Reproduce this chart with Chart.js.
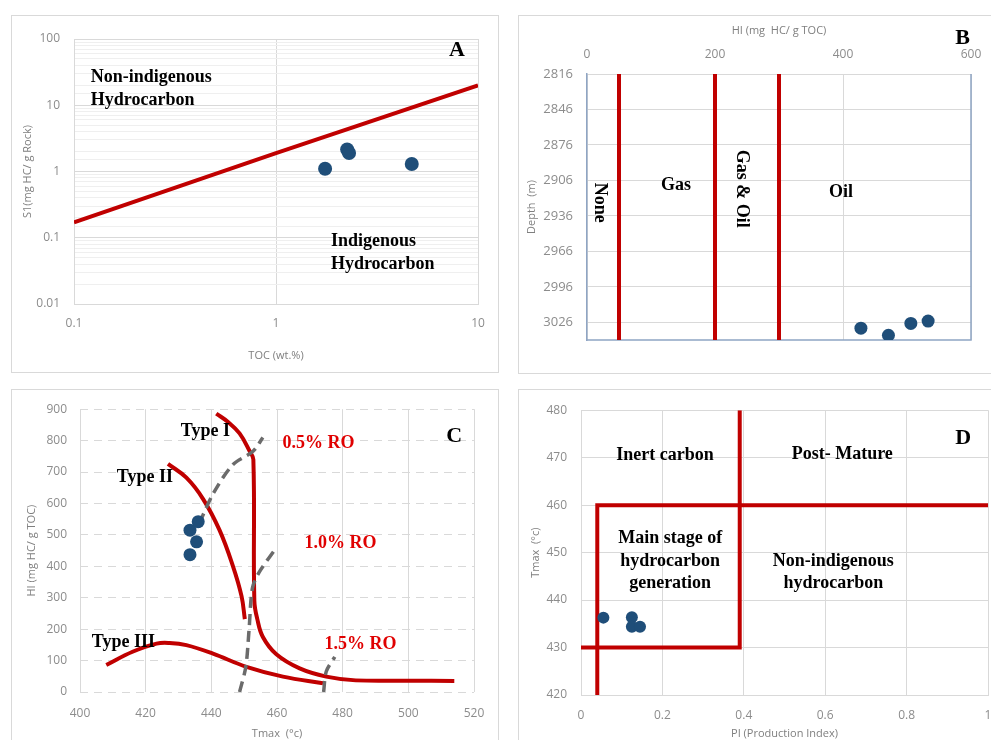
<!DOCTYPE html>
<html>
<head>
<meta charset="utf-8">
<script src="https://cdn.jsdelivr.net/npm/chart.js@4.4.1/dist/chart.umd.min.js"></script>
<style>
body { margin: 0; background: #fff; width: 991px; height: 740px; overflow: hidden; position: relative; }
.box { position: absolute; border: 1px solid #d9d9d9; box-sizing: border-box; }
canvas { position: absolute; }
</style>
</head>
<body>
<div class="box" style="left:11px;top:15px;width:488px;height:358px"></div>
<div class="box" style="left:518px;top:15px;width:480px;height:359px"></div>
<div class="box" style="left:11px;top:389px;width:488px;height:360px"></div>
<div class="box" style="left:518px;top:389px;width:480px;height:360px"></div>
<canvas id="cA" width="487" height="357" style="left:11px;top:15px"></canvas>
<canvas id="cB" width="500" height="358" style="left:518px;top:15px"></canvas>
<canvas id="cC" width="500" height="351" style="left:11px;top:389px"></canvas>
<canvas id="cD" width="500" height="351" style="left:518px;top:389px"></canvas>
<script>
// --- A : S1 vs TOC ---
var aToc = [1.75, 2.25, 2.3, 4.7];
var aS1 = [1.1, 2.15, 1.9, 1.3];
var aLimitToc = [0.1, 1, 10];
var aLimitS1 = [0.17, 1.9, 20];

// --- B : HI vs depth ---
var bHI = [428, 471, 506, 533];
var bDepth = [3031, 3037, 3027, 3025];
var bZoneLimits = [50, 200, 300];
var bHITicks = [0, 200, 400, 600];
var bDepthTicks = [2816, 2846, 2876, 2906, 2936, 2966, 2996, 3026];
var bDepthMin = 2816, bDepthMax = 3041;

// --- C : HI vs Tmax ---
var cTmax = [433.5, 436, 435.5, 433.5];
var cHI = [515, 542, 478, 437];
var typeITmax = [441.5, 445, 448.6, 451.7, 452.8, 453.1, 454, 455.7, 459.8, 466.9, 475, 484, 500, 514];
var typeIHI = [886, 860, 823, 766, 740, 290, 232, 175, 120, 75, 49, 37, 36, 35];
var typeIITmax = [426.8, 432.4, 437.5, 442.5, 446.6, 449.2, 450.2];
var typeIIHI = [726, 682, 614, 515, 400, 305, 232];
var typeIIITmax = [408, 416, 423.3, 427.3, 432.4, 440.5, 450.7, 461.8, 474];
var typeIIIHI = [86, 128, 154, 156, 149, 122, 80, 49, 28];
var ro05Tmax = [436.3, 440.5, 446.6, 452.7, 455.7];
var ro05HI = [536, 630, 724, 766, 810];
var ro10Tmax = [448.6, 450.5, 451.5, 452.5, 454.5, 459.3];
var ro10HI = [0, 80, 200, 330, 380, 452];
var ro15Tmax = [474.2, 475, 477.6];
var ro15HI = [0, 65, 112];

// --- D : Tmax vs PI ---
var dPI = [0.055, 0.125, 0.125, 0.145];
var dTmax = [436.3, 436.4, 434.4, 434.4];
var dLine1PI = [0.04, 0.04, 1];
var dLine1T = [420, 460, 460];
var dLine2PI = [0, 0.39, 0.39];
var dLine2T = [430, 430, 480];

var RED = "#c00000";
var DOT = "#1f4e79";
var GRID = "#d9d9d9";
var TICK = "#8c8c8c";
var FONT_TICK = { family: '"Open Sans", "Liberation Sans", sans-serif', size: 12 };
var FONT_TITLE = { family: '"Open Sans", "Liberation Sans", sans-serif', size: 11 };

function pts(xs, ys) {
    return xs.map(function(x, i) { return { x: x, y: ys[i] }; });
}
function fixW(w) { return function(s) { s.width = w; }; }
function fixH(h) { return function(s) { s.height = h; }; }
function setTicks(list) {
    return function(s) { s.ticks = list.map(function(v) { return { value: v }; }); };
}
function isPow10(v) {
    var l = Math.log10(v);
    return Math.abs(l - Math.round(l)) < 1e-6;
}
function plain(v) { return String(Math.round(v * 100) / 100); }

// textes dessinés en coordonnées de données
var notes = {
    id: "notes",
    afterDatasetsDraw: function(chart, args, opts) {
        var ctx = chart.ctx, xs = chart.scales.x, ys = chart.scales.y;
        (opts.items || []).forEach(function(n) {
            ctx.save();
            ctx.translate(xs.getPixelForValue(n.x), ys.getPixelForValue(n.y));
            if (n.rot) ctx.rotate(n.rot * Math.PI / 180);
            ctx.font = "bold " + (n.size || 18) + 'px "Liberation Serif", serif';
            ctx.fillStyle = n.color || "#000";
            ctx.textAlign = n.align || "center";
            ctx.textBaseline = "middle";
            ctx.fillText(n.text, 0, 0);
            ctx.restore();
        });
    }
};

// cadre bleuté du panneau B
var frameB = {
    id: "frameB",
    beforeDatasetsDraw: function(chart) {
        var ctx = chart.ctx, a = chart.chartArea;
        ctx.save();
        ctx.strokeStyle = "#8fa5c4";
        ctx.lineWidth = 1.5;
        ctx.beginPath();
        ctx.moveTo(a.left, a.bottom);
        ctx.lineTo(a.right, a.bottom);
        ctx.lineTo(a.right, a.top);
        ctx.stroke();
        ctx.restore();
    }
};

function tickOpts(pad, extra) {
    var t = { color: TICK, font: FONT_TICK, padding: pad, maxRotation: 0, autoSkip: false, callback: plain };
    for (var k in extra) t[k] = extra[k];
    return t;
}
function titleOpts(text, top, bottom) {
    return { display: true, text: text, color: "#7f7f7f", font: FONT_TITLE, padding: { top: top, bottom: bottom } };
}
var base = {
    responsive: false,
    animation: false,
    events: []
};
function opts(o) {
    var r = {};
    for (var k in base) r[k] = base[k];
    for (var k2 in o) r[k2] = o[k2];
    return r;
}

// ---------------- A ----------------
new Chart(document.getElementById("cA"), {
    type: "scatter",
    data: {
        datasets: [
            { data: pts(aToc, aS1), pointRadius: 7, pointBackgroundColor: DOT, pointBorderWidth: 0 },
            { data: pts(aLimitToc, aLimitS1), showLine: true, borderColor: RED, borderWidth: 4, pointRadius: 0 }
        ]
    },
    options: opts({
        layout: { padding: { left: 0, top: 24, right: 20, bottom: 0 } },
        plugins: {
            legend: { display: false },
            tooltip: { enabled: false },
            notes: { items: [
                { text: "Non-indigenous", x: 0.121, y: 26.7, align: "left" },
                { text: "Hydrocarbon", x: 0.121, y: 12, align: "left" },
                { text: "Indigenous", x: 1.87, y: 0.089, align: "left" },
                { text: "Hydrocarbon", x: 1.87, y: 0.04, align: "left" },
                { text: "A", x: 7.87, y: 68, size: 22 }
            ] }
        },
        scales: {
            x: {
                type: "logarithmic", min: 0.1, max: 10, afterFit: fixH(68),
                grid: { color: function(c) { return c.tick && isPow10(c.tick.value) ? GRID : "rgba(0,0,0,0)"; }, drawTicks: false },
                border: { color: GRID },
                ticks: tickOpts(12, { callback: function(v) { return isPow10(v) ? String(v) : ""; } }),
                title: titleOpts("TOC (wt.%)", 0, 10)
            },
            y: {
                type: "logarithmic", min: 0.01, max: 100, afterFit: fixW(63),
                grid: { color: function(c) { return c.tick && isPow10(c.tick.value) ? GRID : "#efefef"; }, drawTicks: false },
                border: { color: GRID },
                ticks: tickOpts(14, { callback: function(v) { return isPow10(v) ? String(v) : ""; } }),
                title: titleOpts("S1(mg HC/ g Rock)", 10, 0)
            }
        }
    }),
    plugins: [notes]
});

// ---------------- B ----------------
var bSets = [{ data: pts(bHI, bDepth), pointRadius: 6.5, pointBackgroundColor: DOT, pointBorderWidth: 0 }];
bZoneLimits.forEach(function(v) {
    bSets.push({ data: pts([v, v], [bDepthMin, bDepthMax]), showLine: true, borderColor: RED, borderWidth: 4, pointRadius: 0 });
});
new Chart(document.getElementById("cB"), {
    type: "scatter",
    data: { datasets: bSets },
    options: opts({
        layout: { padding: { left: 0, top: 0, right: 47, bottom: 33 } },
        plugins: {
            legend: { display: false },
            tooltip: { enabled: false },
            notes: { items: [
                { text: "None", x: 20, y: 2925, rot: 90 },
                { text: "Gas", x: 139, y: 2910 },
                { text: "Gas & Oil", x: 241, y: 2913, rot: 90 },
                { text: "Oil", x: 397, y: 2916 },
                { text: "B", x: 587, y: 2786, size: 22 }
            ] }
        },
        scales: {
            x: {
                type: "linear", position: "top", min: 0, max: 600,
                afterBuildTicks: setTicks(bHITicks), afterFit: fixH(59),
                grid: { color: GRID, drawTicks: false },
                border: { color: GRID },
                ticks: tickOpts(12, {}),
                title: titleOpts("HI (mg  HC/ g TOC)", 9, 0)
            },
            y: {
                type: "linear", reverse: true, min: bDepthMin, max: bDepthMax,
                afterBuildTicks: setTicks(bDepthTicks), afterFit: fixW(69),
                grid: { color: GRID, drawTicks: false },
                border: { color: "#8fa5c4", width: 1.5 },
                ticks: tickOpts(14, { font: { family: FONT_TICK.family, size: 13 } }),
                title: titleOpts("Depth  (m)", 7, 0)
            }
        }
    }),
    plugins: [frameB, notes]
});

// ---------------- C ----------------
function dashed(xs, ys) {
    return { data: pts(xs, ys), showLine: true, borderColor: "#6b6b6b", borderWidth: 3.5, borderDash: [11, 6], tension: 0.3, pointRadius: 0 };
}
function curve(xs, ys) {
    return { data: pts(xs, ys), showLine: true, borderColor: RED, borderWidth: 4, tension: 0.4, pointRadius: 0 };
}
new Chart(document.getElementById("cC"), {
    type: "scatter",
    data: {
        datasets: [
            { data: pts(cTmax, cHI), pointRadius: 6.5, pointBackgroundColor: DOT, pointBorderWidth: 0 },
            dashed(ro05Tmax, ro05HI),
            dashed(ro10Tmax, ro10HI),
            dashed(ro15Tmax, ro15HI),
            curve(typeITmax, typeIHI),
            curve(typeIITmax, typeIIHI),
            curve(typeIIITmax, typeIIIHI)
        ]
    },
    options: opts({
        layout: { padding: { left: 0, top: 17, right: 37, bottom: 0 } },
        plugins: {
            legend: { display: false },
            tooltip: { enabled: false },
            notes: { items: [
                { text: "Type I", x: 430.7, y: 830, align: "left" },
                { text: "Type II", x: 411.2, y: 682, align: "left" },
                { text: "Type III", x: 403.6, y: 158, align: "left" },
                { text: "0.5% RO", x: 461.7, y: 792, align: "left", color: "#e00000" },
                { text: "1.0% RO", x: 468.4, y: 472, align: "left", color: "#e00000" },
                { text: "1.5% RO", x: 474.5, y: 152, align: "left", color: "#e00000" },
                { text: "C", x: 514, y: 814, size: 22 }
            ] }
        },
        scales: {
            x: {
                type: "linear", min: 400, max: 520, afterFit: fixH(48),
                grid: { color: GRID, drawTicks: false },
                border: { display: false },
                ticks: tickOpts(14, { stepSize: 20 }),
                title: titleOpts("Tmax  (°c)", 0, 0)
            },
            y: {
                type: "linear", min: 0, max: 900, afterFit: fixW(69),
                grid: { color: GRID, drawTicks: false },
                border: { display: false, dash: [8, 6] },
                ticks: tickOpts(13, { stepSize: 100 }),
                title: titleOpts("HI (mg HC/ g TOC)", 14, 0)
            }
        }
    }),
    plugins: [notes]
});

// ---------------- D ----------------
new Chart(document.getElementById("cD"), {
    type: "scatter",
    data: {
        datasets: [
            { data: pts(dPI, dTmax), pointRadius: 6, pointBackgroundColor: DOT, pointBorderWidth: 0 },
            { data: pts(dLine1PI, dLine1T), showLine: true, borderColor: RED, borderWidth: 4, pointRadius: 0 },
            { data: pts(dLine2PI, dLine2T), showLine: true, borderColor: RED, borderWidth: 4, pointRadius: 0 }
        ]
    },
    options: opts({
        layout: { padding: { left: 0, top: 14, right: 30, bottom: 0 } },
        plugins: {
            legend: { display: false },
            tooltip: { enabled: false },
            notes: { items: [
                { text: "Inert carbon", x: 0.2065, y: 470.4 },
                { text: "Post- Mature", x: 0.642, y: 470.6 },
                { text: "Main stage of", x: 0.219, y: 452.9 },
                { text: "hydrocarbon", x: 0.219, y: 448.2 },
                { text: "generation", x: 0.219, y: 443.6 },
                { text: "Non-indigenous", x: 0.62, y: 448.2 },
                { text: "hydrocarbon", x: 0.62, y: 443.6 },
                { text: "D", x: 0.939, y: 474.1, size: 22 }
            ] }
        },
        scales: {
            x: {
                type: "linear", min: 0, max: 1, afterFit: fixH(45),
                grid: { color: GRID, drawTicks: false },
                border: { color: GRID },
                ticks: tickOpts(13, { stepSize: 0.2 }),
                title: titleOpts("PI (Production Index)", 0, 0)
            },
            y: {
                type: "linear", min: 420, max: 480, afterFit: fixW(63),
                grid: { color: GRID, drawTicks: false },
                border: { color: GRID },
                ticks: tickOpts(14, { stepSize: 10 }),
                title: titleOpts("Tmax  (°c)", 11, 0)
            }
        }
    }),
    plugins: [notes]
});
</script>
</body>
</html>
